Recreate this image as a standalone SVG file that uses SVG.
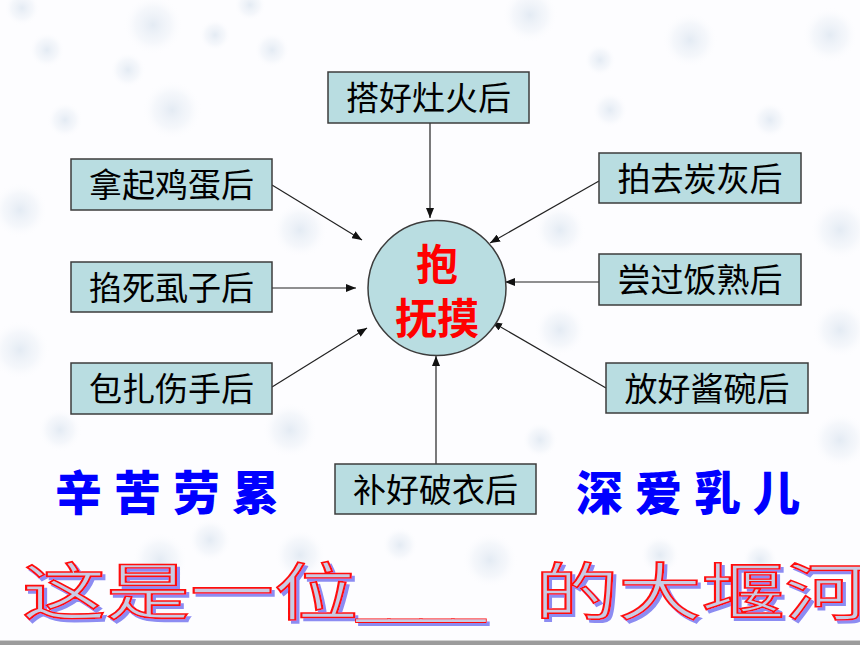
<svg xmlns="http://www.w3.org/2000/svg" width="860" height="645" viewBox="0 0 860 645">
<style>
.box{fill:#b9dde1;stroke:#3c3c3c;stroke-width:1.5}
.bt{font-family:"Noto Sans CJK SC","Noto Sans",sans-serif;font-size:33px;fill:#000;text-anchor:middle}
.ct{font-family:"Noto Sans CJK SC",sans-serif;font-size:42px;font-weight:bold;fill:#ff0000;text-anchor:middle}
.blue{font-family:"Noto Sans CJK SC",sans-serif;font-size:47px;font-weight:900;fill:#0000ff;letter-spacing:12px}
.conn line{stroke:#222;stroke-width:1.2;marker-end:url(#ah)}
.big{font-family:"Noto Sans CJK SC",sans-serif;font-size:62px;fill:#c8cce4;stroke:#ff1010;stroke-width:1.6;filter:url(#sh)}
.under{font-family:"Liberation Sans",sans-serif;font-size:40px;fill:#c8cce4;filter:url(#ol)}
.flake{fill:url(#fg)}
</style>
<defs>
<marker id="ah" viewBox="0 0 10 8" refX="10" refY="4" markerWidth="10" markerHeight="8" markerUnits="userSpaceOnUse" orient="auto">
<path d="M0,0 L10,4 L0,8 Z" fill="#111"/>
</marker>
<radialGradient id="fg">
<stop offset="0" stop-color="#b4c9de" stop-opacity="0.35"/>
<stop offset="0.6" stop-color="#cfdcea" stop-opacity="0.18"/>
<stop offset="1" stop-color="#ffffff" stop-opacity="0"/>
</radialGradient>
<filter id="sh" filterUnits="userSpaceOnUse" x="0" y="540" width="860" height="105">
<feOffset in="SourceAlpha" dx="3" dy="3" result="o"/>
<feFlood flood-color="#8c8cf2"/>
<feComposite in2="o" operator="in" result="s"/>
<feMerge><feMergeNode in="s"/><feMergeNode in="SourceGraphic"/></feMerge>
</filter>
<filter id="ol" filterUnits="userSpaceOnUse" x="300" y="590" width="250" height="55">
<feMorphology in="SourceAlpha" operator="dilate" radius="1.2" result="d"/>
<feOffset in="d" dx="3" dy="3" result="od"/>
<feFlood flood-color="#8c8cf2"/>
<feComposite in2="od" operator="in" result="s"/>
<feFlood flood-color="#ff1010"/>
<feComposite in2="d" operator="in" result="r"/>
<feMerge><feMergeNode in="s"/><feMergeNode in="r"/><feMergeNode in="SourceGraphic"/></feMerge>
</filter>
</defs>
<rect x="0" y="0" width="860" height="645" fill="#fdfdff"/>
<g id="background">
<circle class="flake" cx="22" cy="8" r="18"/>
<circle class="flake" cx="153" cy="25" r="30"/>
<circle class="flake" cx="47" cy="50" r="18"/>
<circle class="flake" cx="128" cy="70" r="18"/>
<circle class="flake" cx="172" cy="110" r="30"/>
<circle class="flake" cx="215" cy="35" r="16"/>
<circle class="flake" cx="250" cy="5" r="16"/>
<circle class="flake" cx="272" cy="50" r="18"/>
<circle class="flake" cx="65" cy="120" r="18"/>
<circle class="flake" cx="20" cy="210" r="28"/>
<circle class="flake" cx="20" cy="350" r="30"/>
<circle class="flake" cx="60" cy="430" r="22"/>
<circle class="flake" cx="300" cy="230" r="28"/>
<circle class="flake" cx="290" cy="430" r="28"/>
<circle class="flake" cx="530" cy="15" r="28"/>
<circle class="flake" cx="610" cy="110" r="18"/>
<circle class="flake" cx="690" cy="40" r="28"/>
<circle class="flake" cx="830" cy="35" r="28"/>
<circle class="flake" cx="770" cy="120" r="18"/>
<circle class="flake" cx="600" cy="60" r="16"/>
<circle class="flake" cx="840" cy="230" r="30"/>
<circle class="flake" cx="560" cy="230" r="26"/>
<circle class="flake" cx="560" cy="330" r="26"/>
<circle class="flake" cx="840" cy="330" r="28"/>
<circle class="flake" cx="840" cy="440" r="28"/>
<circle class="flake" cx="540" cy="440" r="18"/>
<circle class="flake" cx="210" cy="540" r="22"/>
<circle class="flake" cx="160" cy="560" r="28"/>
<circle class="flake" cx="300" cy="555" r="26"/>
<circle class="flake" cx="490" cy="560" r="28"/>
<circle class="flake" cx="660" cy="555" r="20"/>
<circle class="flake" cx="760" cy="560" r="18"/>
<circle class="flake" cx="400" cy="545" r="18"/>
</g>
<g id="connectors" class="conn">
<line x1="430" y1="123" x2="430" y2="218"/>
<line x1="272" y1="185" x2="362" y2="240"/>
<line x1="272" y1="288" x2="356" y2="288"/>
<line x1="272" y1="387" x2="367" y2="328"/>
<line x1="599" y1="181" x2="490" y2="243"/>
<line x1="599" y1="282" x2="505" y2="282"/>
<line x1="606" y1="388" x2="492" y2="322"/>
<line x1="436" y1="464" x2="436" y2="356"/>
</g>
<g id="center">
<ellipse cx="437" cy="288" rx="69" ry="67.5" class="box"/>
<text class="ct"><tspan x="437" y="280">抱</tspan><tspan x="437" y="334">抚摸</tspan></text>
</g>
<g id="n-top">
<rect class="box" x="328" y="72" width="201" height="51"/>
<text class="bt" x="428.5" y="110">搭好灶火后</text>
</g>
<g id="n-egg">
<rect class="box" x="71" y="159" width="201" height="51"/>
<text class="bt" x="171.5" y="197">拿起鸡蛋后</text>
</g>
<g id="n-lice">
<rect class="box" x="71" y="262" width="201" height="50"/>
<text class="bt" x="171.5" y="299.5">掐死虱子后</text>
</g>
<g id="n-hand">
<rect class="box" x="71" y="363" width="201" height="51"/>
<text class="bt" x="171.5" y="401">包扎伤手后</text>
</g>
<g id="n-ash">
<rect class="box" x="599" y="153" width="202" height="50"/>
<text class="bt" x="700" y="190.5">拍去炭灰后</text>
</g>
<g id="n-rice">
<rect class="box" x="599" y="254" width="202" height="51"/>
<text class="bt" x="700" y="292">尝过饭熟后</text>
</g>
<g id="n-bowl">
<rect class="box" x="606" y="363" width="202" height="50"/>
<text class="bt" x="707" y="400.5">放好酱碗后</text>
</g>
<g id="n-clothes">
<rect class="box" x="335" y="464" width="201" height="50"/>
<text class="bt" x="435.5" y="501.5">补好破衣后</text>
</g>
<g id="labels">
<text class="blue" x="55" y="510">辛苦劳累</text>
<text class="blue" x="576" y="510">深爱乳儿</text>
</g>
<g id="title">
<text class="big" x="22" y="615" textLength="336" lengthAdjust="spacingAndGlyphs">这是一位</text>
<text class="under" x="357" y="614" textLength="128" lengthAdjust="spacingAndGlyphs">____</text>
<text class="big" x="535" y="615" textLength="333" lengthAdjust="spacingAndGlyphs">的大堰河</text>
</g>
<rect x="0" y="641" width="860" height="4" fill="#9c9c9c"/>
<rect x="0" y="640" width="860" height="1" fill="#d0d0d0"/>
</svg>
